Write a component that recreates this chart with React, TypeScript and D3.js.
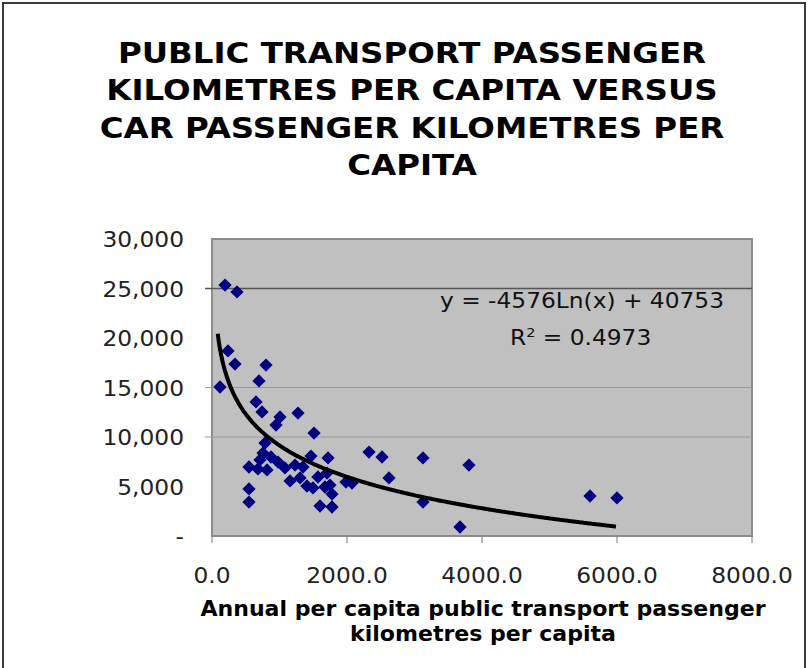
import * as d3 from "d3";
import React from "react";

// public transport pkm per capita (x) vs car pkm per capita (y)
const transportKm = [
  193, 370, 237, 341, 800, 696, 119, 652, 741, 1007, 948, 1274, 1511, 785, 756, 874, 548, 681, 815, 978,
  1081, 1230, 1348, 1467, 1719, 1156, 1407, 1496, 1570, 1674, 1748, 1778, 1600, 1778, 548, 548, 1985, 2074,
  2326, 2519, 2622, 3126, 3126, 3674, 3807, 5600, 6000, 1704, 711, 1304,
];
const carKm = [
  25350, 24650, 18690, 17370, 17270, 15660, 15050, 13540, 12530, 12020, 11210, 12420, 10400, 9390, 8380,
  7980, 6970, 6770, 6670, 7470, 6870, 7170, 6970, 8080, 7880, 5560, 5050, 4850, 5960, 4950, 5150, 4240,
  3030, 2930, 4750, 3430, 5450, 5350, 8480, 7980, 5860, 7880, 3430, 910, 7170, 4040, 3840, 6360, 7680, 5860,
];

const xTicks = [0, 2000, 4000, 6000, 8000];
const yTicks = [0, 5000, 10000, 15000, 20000, 25000, 30000];
const gridLines = [10000, 15000, 25000];

const titleLines = [
  "PUBLIC TRANSPORT PASSENGER",
  "KILOMETRES PER CAPITA VERSUS",
  "CAR PASSENGER KILOMETRES PER",
  "CAPITA",
];
const xTitleLines = ["Annual per capita public transport passenger", "kilometres per capita"];

// trendline y = a*ln(x) + b
const trendA = -4576;
const trendB = 40753;
const trendRange = [85, 6000];

const W = 808;
const H = 668;
const plot = { left: 212, right: 752, top: 239, bottom: 536 };
const font = "Verdana, 'DejaVu Sans', sans-serif";
const stretch = 1.11; // Verdana runs wider than DejaVu

// text squeezed/stretched horizontally around its anchor point
const Txt = ({ x, y, sx = stretch, children, ...rest }: any) => (
  <text transform={`translate(${x},${y}) scale(${sx},1)`} {...rest}>
    {children}
  </text>
);

export default function App() {
  const x = d3.scaleLinear().domain([0, 8000]).range([plot.left, plot.right]);
  const y = d3.scaleLinear().domain([0, 30000]).range([plot.bottom, plot.top]);

  const pts = transportKm.map((v, i) => ({ x: v, y: carKm[i] }));
  const diamond = d3.symbol(d3.symbolSquare, 88)();

  const trendData = d3.range(trendRange[0], trendRange[1] + 1, 20).map((v) => ({
    x: v,
    y: trendA * Math.log(v) + trendB,
  }));
  const line = d3
    .line<{ x: number; y: number }>()
    .x((d) => x(d.x))
    .y((d) => y(d.y))
    .curve(d3.curveMonotoneX);

  const fmtY = (v: number) => (v === 0 ? "-" : d3.format(",")(v));

  return (
    <div style={{ position: "absolute", left: 0, top: 0 }}>
      <svg width={W} height={H} style={{ display: "block", background: "#fff" }} fontFamily={font}>
        <rect x={3} y={3} width={802} height={720} fill="#fff" stroke="#3a3a3a" strokeWidth={2} />

        {titleLines.map((t, i) => (
          <Txt key={t} x={412} y={63 + i * 37.3} sx={1.12} textAnchor="middle" fontSize={29} fontWeight="bold" fill="#000">
            {t}
          </Txt>
        ))}

        <rect
          x={plot.left}
          y={plot.top}
          width={plot.right - plot.left}
          height={plot.bottom - plot.top}
          fill="#c0c0c0"
          stroke="#8c8c8c"
          strokeWidth={2}
        />

        {gridLines.map((g) => (
          <line
            key={g}
            x1={plot.left - 7}
            x2={plot.right}
            y1={y(g)}
            y2={y(g)}
            stroke={g === 25000 ? "#555" : "#9a9a9a"}
            strokeWidth={g === 25000 ? 1.5 : 1}
          />
        ))}

        {yTicks.map((t) => (
          <Txt key={t} x={184} y={y(t) + 8} textAnchor="end" fontSize={21} fill="#222">
            {fmtY(t)}
          </Txt>
        ))}

        {xTicks.map((t) => (
          <g key={t}>
            <line x1={x(t)} x2={x(t)} y1={plot.bottom} y2={plot.bottom + 7} stroke="#777" />
            <Txt x={x(t)} y={583} textAnchor="middle" fontSize={21} fill="#222">
              {d3.format(".1f")(t)}
            </Txt>
          </g>
        ))}

        {pts.map((d, i) => (
          <path
            key={i}
            d={diamond}
            transform={`translate(${x(d.x)},${y(d.y)}) rotate(45)`}
            fill="#000080"
          />
        ))}

        <path d={line(trendData) ?? ""} fill="none" stroke="#000" strokeWidth={4} />

        <Txt x={440} y={308} fontSize={21} fill="#111">
          y = -4576Ln(x) + 40753
        </Txt>
        <Txt x={510} y={345} fontSize={21} fill="#111">
          R<tspan dy={-8} fontSize={13}>2</tspan>
          <tspan dy={8}> = 0.4973</tspan>
        </Txt>

        {xTitleLines.map((t, i) => (
          <Txt key={t} x={483} y={616 + i * 25} sx={1.05} textAnchor="middle" fontSize={21} fontWeight="bold" fill="#000">
            {t}
          </Txt>
        ))}
      </svg>
    </div>
  );
}
